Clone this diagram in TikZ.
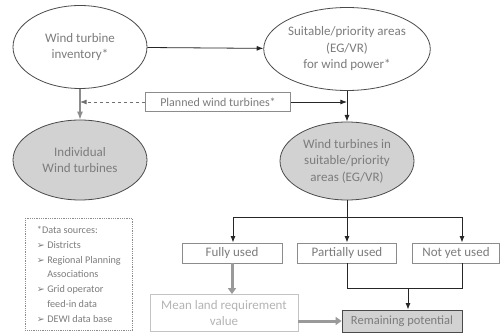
\documentclass[tikz,border=0pt]{standalone}
\usepackage{fontspec}
\setmainfont{Carlito}
\newfontfamily\symfont{DejaVu Sans}
\usetikzlibrary{arrows.meta,shapes.geometric,calc}
\definecolor{ink}{HTML}{7C7C7C}
\definecolor{pale}{HTML}{B4B4B4}
\definecolor{rim}{HTML}{4A4A4A}
\definecolor{boxline}{HTML}{8C8C8C}
\definecolor{shade}{HTML}{D2D2D2}
\definecolor{fatgray}{HTML}{9A9A9A}
\tikzset{
  >=Latex,
  every node/.style={font=\fontsize{13}{16.5}\selectfont,text=ink},
  oval/.style={ellipse,draw=rim,thick,fill=white,minimum width=134pt,minimum height=83pt,inner sep=0pt,align=center},
  grayoval/.style={oval,fill=shade},
  smallbox/.style={draw=boxline,thick,fill=white,minimum height=20pt,inner sep=2pt,align=center},
  palebox/.style={smallbox,draw=pale!80,text=pale,font=\fontsize{13}{16}\selectfont},
  resultbox/.style={smallbox,fill=shade,draw=rim,font=\fontsize{12.5}{15}\selectfont},
  srcbox/.style={draw=boxline,densely dotted,thick,anchor=north west,align=left,inner sep=4pt,
    minimum width=107pt,minimum height=112pt,font=\fontsize{10.2}{14.8}\selectfont,text=ink},
  arrow/.style={->,thick,draw=black!85,shorten >=0pt},
  line/.style={thick,draw=black!85},
  grayarr/.style={->,line width=1.1pt,draw=boxline},
  dasharr/.style={->,dashed,thick,draw=boxline!80!black},
  fatarr/.style={-{Triangle[width=8pt,length=6pt]},line width=3pt,draw=fatgray},
}
\newcommand{\bul}{{\symfont\fontsize{9.5}{10}\selectfont ➢}~}

\begin{document}
\begin{tikzpicture}[x=1pt,y=-1pt]
\useasboundingbox (0,0) rectangle (503,334);

% top row
\node[oval] (inventory) at (80,47) {Wind turbine\\inventory*};
\node[oval] (suitable) at (347,49) {Suitable/priority areas\\(EG/VR)\\for wind power*};
\node[smallbox,minimum width=145pt,minimum height=19pt,font=\fontsize{12}{14}\selectfont] (planned) at (218,102) {Planned wind turbines*};

% second row
\node[grayoval,minimum height=80pt] (individual) at (80,160) {Individual\\Wind turbines};
\node[grayoval,minimum height=78pt] (inareas) at (347,161) {Wind turbines in\\suitable/priority\\areas (EG/VR)};

\draw[arrow] (inventory) -- (suitable);
\draw[grayarr] (inventory) -- (individual);
\draw[arrow] (suitable) -- (inareas);
\coordinate (pjoin) at (inventory.south |- planned.west);
\coordinate (sjoin) at (suitable.south |- planned.east);
\draw[dasharr] (planned) -- (pjoin);
\draw[arrow] (planned) -- (sjoin);

% usage classes
\node[smallbox,minimum width=100pt] (fully) at (232,253) {Fully used};
\node[smallbox,minimum width=99pt] (partly) at (347,253) {Partially used};
\node[smallbox,minimum width=87pt] (notyet) at (456,253) {Not yet used};

\coordinate (fork) at (347,217);
\draw[line] (inareas) -- (fork);
\draw[arrow] (fork) -| (fully.north -| 233,0);
\draw[arrow] (fork) -- (partly);
\draw[arrow] (fork) -| (notyet.north -| 462,0);

% results
\node[palebox,minimum width=148pt,minimum height=37pt] (meanland) at (224,313) {Mean land requirement\\value};
\node[resultbox,minimum width=120pt,minimum height=22pt] (remaining) at (402,321) {Remaining potential};

\draw[fatarr] (fully) -- (fully |- meanland.north);
\coordinate (merge) at (408,288);
\draw[line] (partly) |- (merge);
\draw[line] (notyet.south -| 462,0) |- (merge);
\draw[arrow] (merge) -- (merge |- remaining.north);
\draw[fatarr] (meanland.east |- remaining.west) -- (remaining);

% data sources
\node[srcbox] (sources) at (25,218) {*Data sources:\\
\bul Districts\\
\bul Regional Planning\\
\phantom{\bul}Associations\\
\bul Grid operator\\
\phantom{\bul}feed-in data\\
\bul DEWI data base};

\end{tikzpicture}
\end{document}
